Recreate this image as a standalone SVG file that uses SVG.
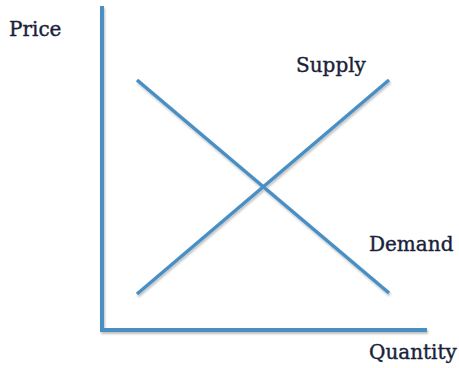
<svg xmlns="http://www.w3.org/2000/svg" width="459" height="368" viewBox="0 0 459 368">
  <defs>
    <filter id="shadow" x="-10%" y="-10%" width="120%" height="120%">
      <feDropShadow dx="1" dy="2" stdDeviation="1.2" flood-color="#000" flood-opacity="0.25"/>
    </filter>
    <style>
      .axis { stroke: #4a8fc4; stroke-width: 4; fill: none; stroke-linecap: square; }
      .curve { stroke: #4a8fc4; stroke-width: 3.5; fill: none; }
      .label { font-family: "DejaVu Serif", "Liberation Serif", serif; font-size: 20px; fill: #1a1f3a; stroke: #1a1f3a; stroke-width: 0.4; }
    </style>
  </defs>
  <rect width="459" height="368" fill="#ffffff"/>
  <g id="axes" filter="url(#shadow)">
    <polyline class="axis" points="102,8 102,330 425,330"/>
  </g>
  <g id="connectors" filter="url(#shadow)">
    <line id="supply-line" class="curve" x1="137" y1="294" x2="389" y2="80"/>
    <line id="demand-line" class="curve" x1="137" y1="80" x2="389" y2="293"/>
  </g>
  <g id="price"><text class="label" x="9" y="36">Price</text></g>
  <g id="supply"><text class="label" x="296" y="72">Supply</text></g>
  <g id="demand"><text class="label" x="369" y="251">Demand</text></g>
  <g id="quantity"><text class="label" x="369" y="359">Quantity</text></g>
</svg>
